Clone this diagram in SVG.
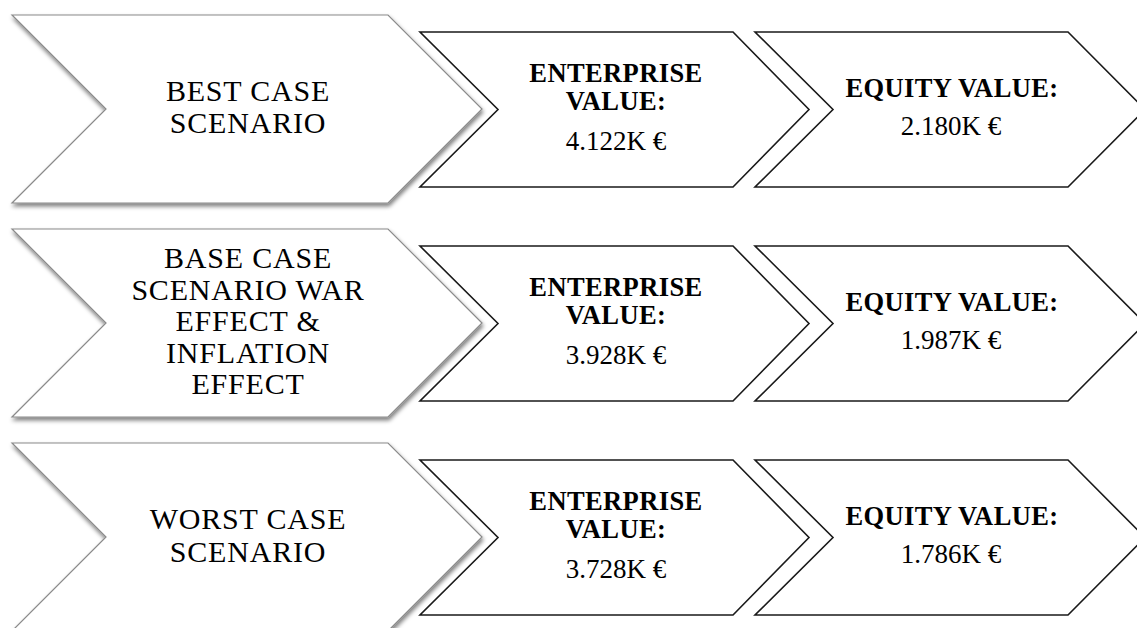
<svg xmlns="http://www.w3.org/2000/svg" width="1137" height="628" viewBox="0 0 1137 628">
<defs>
<filter id="sh" x="-5%" y="-5%" width="115%" height="115%">
<feGaussianBlur in="SourceAlpha" stdDeviation="2"/>
<feOffset dx="1" dy="3" result="b"/>
<feComponentTransfer><feFuncA type="linear" slope="0.5"/></feComponentTransfer>
<feMerge><feMergeNode/><feMergeNode in="SourceGraphic"/></feMerge>
</filter>
<polygon id="big" points="12,15 388,15 482,109 388,203 12,203 106,109"/>
<polygon id="mid" points="420,32 733,32 809,109.5 733,187 420,187 498,109.5"/>
<polygon id="rgt" points="755,32 1068,32 1145,109.5 1068,187 755,187 833,109.5"/>
</defs>
<style>
.big{fill:#fff;stroke:#8a8a8a;stroke-width:1.2;filter:url(#sh)}
.box{fill:#fff;stroke:#1a1a1a;stroke-width:1.6}
text{font-family:"Liberation Serif","Times New Roman",serif;fill:#000;text-anchor:middle}
.t{font-size:30px;letter-spacing:0.8px}
.b{font-size:26.5px;font-weight:bold;letter-spacing:0.4px}
.v{font-size:27px}
</style>
<rect width="1137" height="628" fill="#fff"/>
<g id="row1">
<g id="best">
<use href="#big" class="big"/>
<text class="t" x="248" y="101">BEST CASE</text>
<text class="t" x="248" y="133">SCENARIO</text>
</g>
<g id="ev1">
<use href="#mid" class="box"/>
<text class="b" x="616" y="82">ENTERPRISE</text>
<text class="b" x="616" y="110">VALUE:</text>
<text class="v" x="616" y="150">4.122K €</text>
</g>
<g id="eq1">
<use href="#rgt" class="box"/>
<text class="b" x="952" y="97">EQUITY VALUE:</text>
<text class="v" x="951" y="135">2.180K €</text>
</g>
</g>
<g id="row2" transform="translate(0,214)">
<g id="base">
<use href="#big" class="big"/>
<text class="t" x="248" y="54">BASE CASE</text>
<text class="t" x="248" y="85.5">SCENARIO WAR</text>
<text class="t" x="248" y="117">EFFECT &amp;</text>
<text class="t" x="248" y="148.5">INFLATION</text>
<text class="t" x="248" y="180">EFFECT</text>
</g>
<g id="ev2">
<use href="#mid" class="box"/>
<text class="b" x="616" y="82">ENTERPRISE</text>
<text class="b" x="616" y="110">VALUE:</text>
<text class="v" x="616" y="150">3.928K €</text>
</g>
<g id="eq2">
<use href="#rgt" class="box"/>
<text class="b" x="952" y="97">EQUITY VALUE:</text>
<text class="v" x="951" y="135">1.987K €</text>
</g>
</g>
<g id="row3" transform="translate(0,428)">
<g id="worst">
<use href="#big" class="big"/>
<text class="t" x="248" y="101">WORST CASE</text>
<text class="t" x="248" y="134">SCENARIO</text>
</g>
<g id="ev3">
<use href="#mid" class="box"/>
<text class="b" x="616" y="82">ENTERPRISE</text>
<text class="b" x="616" y="110">VALUE:</text>
<text class="v" x="616" y="150">3.728K €</text>
</g>
<g id="eq3">
<use href="#rgt" class="box"/>
<text class="b" x="952" y="97">EQUITY VALUE:</text>
<text class="v" x="951" y="135">1.786K €</text>
</g>
</g>
<g id="connectors"/>
</svg>
